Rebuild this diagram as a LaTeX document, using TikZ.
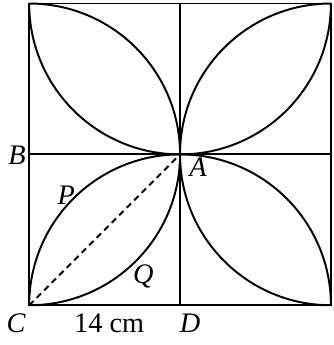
\documentclass[tikz,border=0pt]{standalone}
\usepackage{fontspec}
\setmainfont{Liberation Serif}
\begin{document}
\begin{tikzpicture}[line width=1.1pt,font=\fontsize{16}{18}\selectfont]
            \useasboundingbox (-0.58,-0.79) rectangle (6.06,6.07);
            \coordinate (C) at (0,0);
            \coordinate (D) at (3,0);
            \coordinate (B) at (0,3);
            \coordinate (A) at (3,3);
            \coordinate (top) at (3,6);
            \coordinate (right) at (6,3);
            \draw (C) rectangle (6,6);
            \draw (B) -- (right);
            \draw (D) -- (top);
            % four half circles through A
            \draw (C) arc[start angle=270,end angle=450,radius=3];
            \draw (C) arc[start angle=180,end angle=0,radius=3];
            \draw (0,6) arc[start angle=180,end angle=360,radius=3];
            \draw (6,6) arc[start angle=90,end angle=270,radius=3];
            \draw[dash pattern=on 3.5pt off 2.5pt] (C) -- (A);
            \node (labB) at (-0.24,2.98) {\textit{B}};
            \node (labC) at (-0.26,-0.36) {\textit{C}};
            \node (labD) at (3.2,-0.36) {\textit{D}};
            \node (labA) at (3.36,2.74) {\textit{A}};
            \node (labP) at (0.74,2.19) {\textit{P}};
            \node (labQ) at (2.27,0.58) {\textit{Q}};
            \node (len) at (1.59,-0.36) {14 cm};
        \end{tikzpicture}
\end{document}
